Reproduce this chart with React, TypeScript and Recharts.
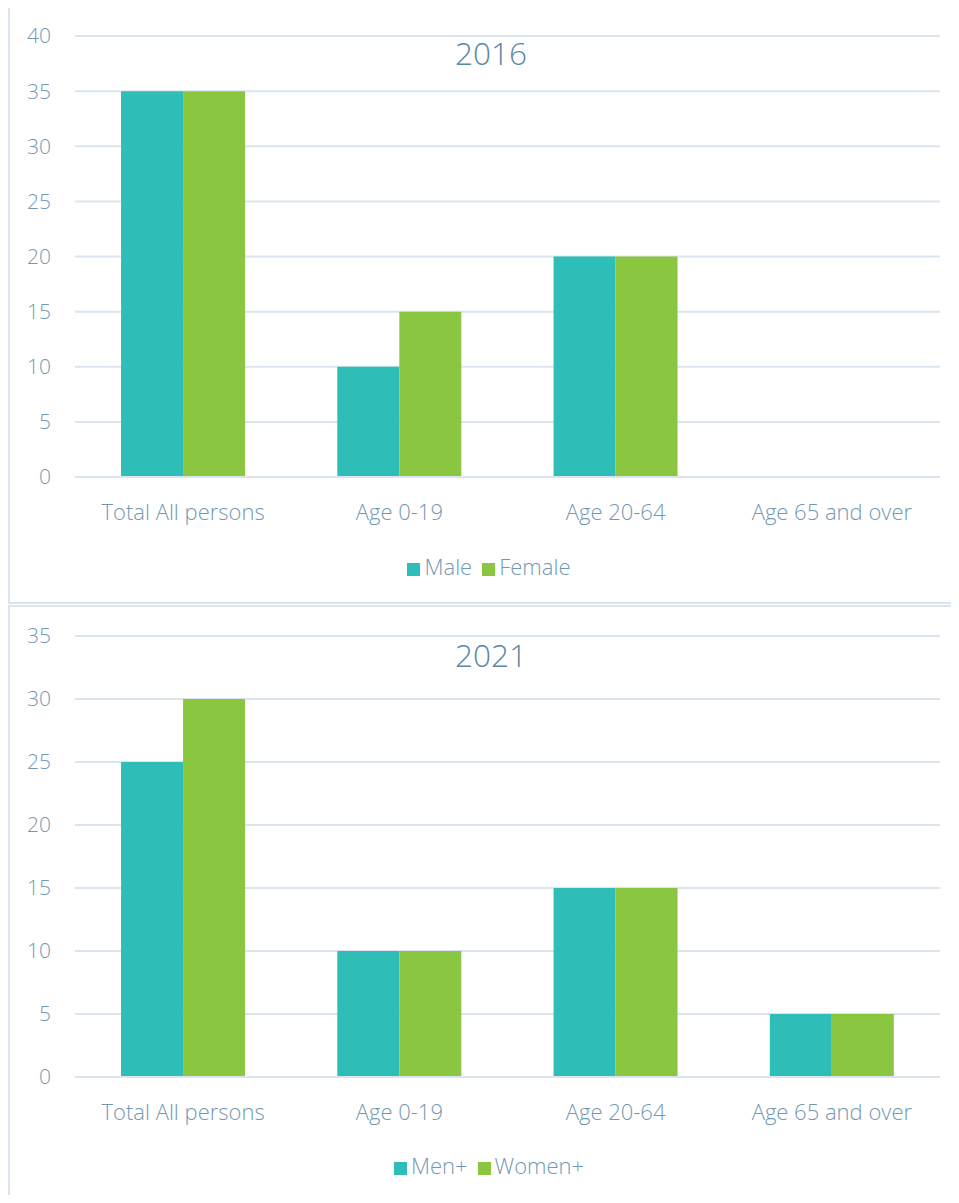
import React from 'react';
import { BarChart, Bar, XAxis, YAxis, CartesianGrid, Legend } from 'recharts';

const categories = ['Total All persons', 'Age 0-19', 'Age 20-64', 'Age 65 and over'];
const male2016 = [35, 10, 20, 0];
const female2016 = [35, 15, 20, 0];
const men2021 = [25, 10, 15, 5];
const women2021 = [30, 10, 15, 5];
const ticks2016 = [0, 5, 10, 15, 20, 25, 30, 35, 40];
const ticks2021 = [0, 5, 10, 15, 20, 25, 30, 35];

const TEAL = '#2ebdb7';
const GREEN = '#8bc641';
const TEXT = '#7398b3';
const GRID = '#dae5ef';
const FONT = '"Open Sans", "Segoe UI", sans-serif';

interface PanelProps {
  title: string;
  a: number[];
  b: number[];
  aName: string;
  bName: string;
  ticks: number[];
  top: number;
  mTop: number;
  mBottom: number;
  titleTop: number;
}

const Panel: React.FC<PanelProps> = ({ title, a, b, aName, bName, ticks, top, mTop, mBottom, titleTop }) => {
  const data = categories.map((c, i) => ({ name: c, a: a[i], b: b[i] }));
  const max = ticks[ticks.length - 1];
  return (
    <div
      style={{
        position: 'absolute',
        left: 0,
        top,
        width: 951,
        height: 598,
        border: `2px solid ${GRID}`,
        borderRight: 'none',
        boxSizing: 'border-box',
        background: '#fff',
        overflow: 'hidden',
      }}
    >
      <BarChart
        width={949}
        height={594}
        data={data}
        margin={{ top: mTop, right: 19, left: 0, bottom: mBottom }}
        barGap={0}
        barCategoryGap="21.3%"
      >
        <CartesianGrid vertical={false} stroke={GRID} strokeWidth={2} />
        <XAxis
          dataKey="name"
          axisLine={{ stroke: GRID, strokeWidth: 2 }}
          tickLine={false}
          tickSize={0}
          tickMargin={27}
          height={70}
          tick={{ fill: TEXT, fontSize: 22, fontFamily: FONT, fontWeight: 300 }}
          interval={0}
        />
        <YAxis
          width={65}
          domain={[0, max]}
          ticks={ticks}
          axisLine={false}
          tickLine={false}
          tickSize={0}
          tickMargin={24}
          tick={{ fill: TEXT, fontSize: 21, fontFamily: FONT, fontWeight: 300 }}
        />
        <Legend
          verticalAlign="bottom"
          iconType="square"
          iconSize={13}
          itemSorter="dataKey"
          wrapperStyle={{ top: 543, left: 0, width: 968, fontFamily: FONT, fontSize: 22, fontWeight: 300 }}
          formatter={(v: string) => <span style={{ color: TEXT }}>{v}</span>}
        />
        <Bar dataKey="a" name={aName} fill={TEAL} isAnimationActive={false} />
        <Bar dataKey="b" name={bName} fill={GREEN} isAnimationActive={false} />
      </BarChart>
      <div
        style={{
          position: 'absolute',
          left: 0,
          width: 962,
          top: titleTop,
          textAlign: 'center',
          fontFamily: FONT,
          fontWeight: 300,
          fontSize: 31.5,
          color: '#5b87a6',
        }}
      >
        {title}
      </div>
    </div>
  );
};

export default function App() {
  return (
    <div style={{ position: 'relative', width: 943, height: 1187 }}>
      <Panel title="2016" a={male2016} b={female2016} aName="Male" bName="Female" ticks={ticks2016} top={-2} mTop={28} mBottom={25} titleTop={23} />
      <Panel title="2021" a={men2021} b={women2021} aName="Men+" bName="Women+" ticks={ticks2021} top={597} mTop={29} mBottom={24} titleTop={26} />
    </div>
  );
}
